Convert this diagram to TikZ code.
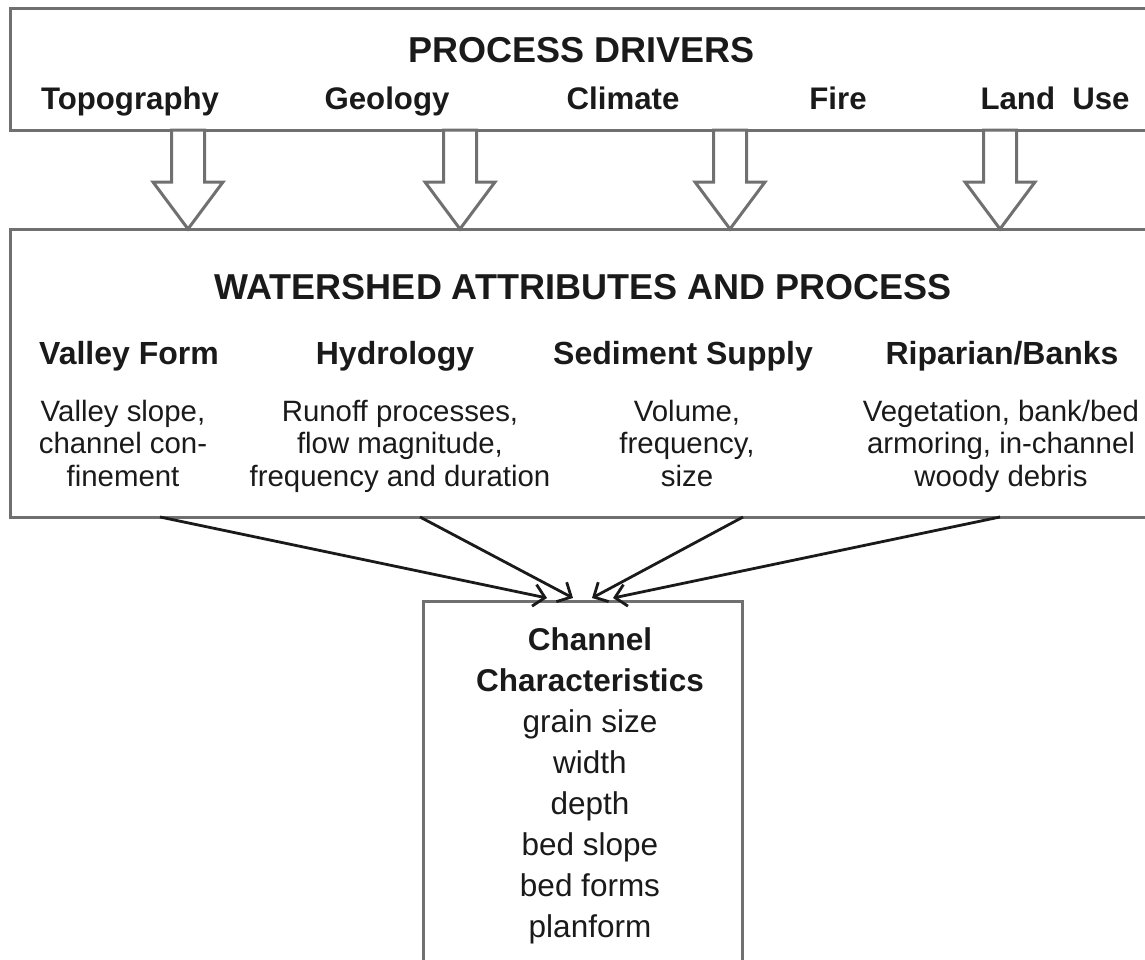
\documentclass[tikz,border=0pt]{standalone}
\usepackage{fontspec}
\setmainfont{Liberation Sans}
\usetikzlibrary{calc,arrows.meta}
\definecolor{boxgray}{HTML}{707070}
\definecolor{ink}{HTML}{1A1A1A}
\tikzset{
	graybox/.style={draw=boxgray, line width=3pt, inner sep=0pt, outer sep=0pt, anchor=north west},
	hollow/.style={draw=boxgray, line width=3pt, fill=white, line join=miter},
	flow/.style={draw=ink, line width=2.8pt, -{Straight Barb[length=11pt,width=22pt]}},
	bigtitle/.style={text=ink, inner sep=0pt, font=\fontsize{36}{40}\selectfont\bfseries},
	driver/.style={text=ink, inner sep=0pt, anchor=base, font=\fontsize{31.2}{34}\selectfont\bfseries},
	attrhead/.style={text=ink, inner sep=0pt, anchor=base, font=\fontsize{32}{35}\selectfont\bfseries},
	attrtext/.style={text=ink, inner sep=0pt, align=center, font=\fontsize{29.4}{32.5}\selectfont},
	chtext/.style={text=ink, inner sep=0pt, align=center, font=\fontsize{31.5}{41}\selectfont}
}
\begin{document}
\begin{tikzpicture}[x=1pt, y=-1pt]
		%%%%% FRAME %%%%%
		\useasboundingbox (0,0) rectangle (1145,959);
		\clip (0,0) rectangle (1145,959);
		
		%%%%% BOXES %%%%%
		\node[graybox, minimum width=1200pt, minimum height=122pt] (drivers) at (10,8) {};
		\node[graybox, minimum width=1200pt, minimum height=288pt] (watershed) at (10,229) {};
		\node[graybox, minimum width=319pt, minimum height=420pt] (channel) at (423,601) {};
		
		%%%%% PROCESS DRIVERS %%%%%
		\node[bigtitle] (pdtitle) at (582,50) {PROCESS DRIVERS};
		\node[driver] (topo) at (130,109) {Topography};
		\node[driver] (geol) at (387,109) {Geology};
		\node[driver] (clim) at (623,109) {Climate};
		\node[driver] (fire) at (838,109) {Fire};
		\node[driver] (land) at (1055,109) {Land\hspace{0.55em}Use};
		
		\foreach \x in {188,460,730,1000}
			\draw[hollow] (\x-16.5,130) -- ++(0,52) -- ++(-18.5,0) -- (\x,229) -- (\x+35,182) -- ++(-18.5,0) -- (\x+16.5,130) -- cycle;
		
		%%%%% WATERSHED %%%%%
		\node[bigtitle] (wstitle) at (583,287) {WATERSHED ATTRIBUTES AND PROCESS};
		\node[attrhead] (valley) at (129,364) {Valley Form};
		\node[attrhead] (hydro) at (395,364) {Hydrology};
		\node[attrhead] (sedi) at (683,364) {Sediment Supply};
		\node[attrhead] (ripa) at (1002,364) {Riparian/Banks};
		
		\node[attrtext] (valleytxt) at (123,447) {\strut Valley slope,\\channel con-\\finement\strut};
		\node[attrtext] (hydrotxt) at (400,447) {\strut Runoff processes,\\flow magnitude,\\frequency and duration\strut};
		\node[attrtext] (seditxt) at (687,447) {\strut Volume,\\frequency,\\size\strut};
		\node[attrtext] (ripatxt) at (1001,447) {\strut Vegetation, bank/bed\\armoring, in-channel\\woody debris\strut};
		
		%%%%% CHANNEL %%%%%
		\node[chtext] (chlabel) at (590,786) {\textbf{Channel}\\\textbf{Characteristics}\\grain size\\width\\depth\\bed slope\\bed forms\\planform};
		
		\foreach \s/\t in {150/124, 410/150, 733/169, 990/190}
			\draw[flow] ($(watershed.south west)+(\s,0)$) -- ($(channel.north west)+(\t,-3)$);
	\end{tikzpicture}
\end{document}
